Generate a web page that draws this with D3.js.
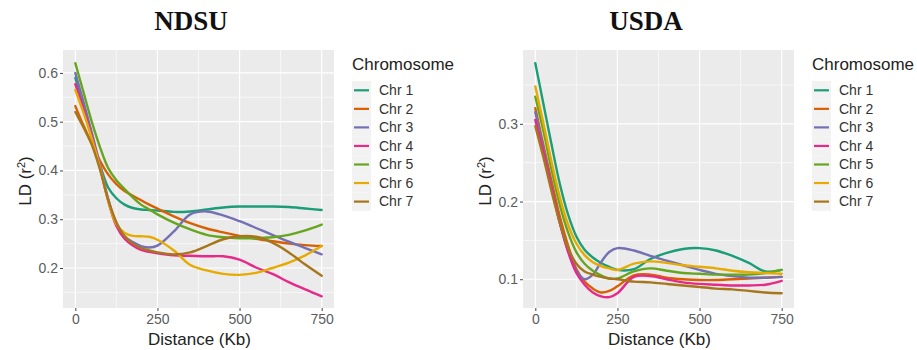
<!DOCTYPE html>
<html>
<head>
<meta charset="utf-8">
<script src="https://cdn.jsdelivr.net/npm/d3@7"></script>
<style>
  body { margin: 0; background: #fff; }
  svg { display: block; font-family: Arial, 'Liberation Sans', sans-serif; }
</style>
</head>
<body>
<svg id="chart" width="917" height="350"></svg>
<script>
const distances = [0, 25, 50, 75, 100, 125, 150, 175, 200, 225, 250, 300, 350, 400, 450, 500, 550, 600, 650, 700, 750]
const chromosomes = ['Chr 1', 'Chr 2', 'Chr 3', 'Chr 4', 'Chr 5', 'Chr 6', 'Chr 7']
const colors = ['#1B9E77', '#D95F02', '#7570B3', '#E7298A', '#66A61E', '#E6AB02', '#A6761D']

// NDSU smoothed LD per chromosome, one value per distance
const ndsuLD = [
  [0.590, 0.530, 0.470, 0.412, 0.365, 0.343, 0.330, 0.323, 0.320, 0.319, 0.318, 0.315, 0.316, 0.320, 0.324, 0.326, 0.326, 0.326, 0.325, 0.322, 0.319],
  [0.532, 0.492, 0.455, 0.420, 0.392, 0.372, 0.358, 0.348, 0.339, 0.330, 0.322, 0.306, 0.292, 0.281, 0.273, 0.266, 0.260, 0.255, 0.250, 0.247, 0.245],
  [0.600, 0.540, 0.478, 0.412, 0.342, 0.290, 0.265, 0.253, 0.245, 0.242, 0.246, 0.275, 0.310, 0.316, 0.308, 0.296, 0.282, 0.268, 0.254, 0.241, 0.228],
  [0.577, 0.525, 0.470, 0.407, 0.338, 0.286, 0.260, 0.246, 0.237, 0.233, 0.230, 0.226, 0.225, 0.224, 0.224, 0.217, 0.201, 0.188, 0.171, 0.156, 0.142],
  [0.620, 0.560, 0.500, 0.448, 0.405, 0.380, 0.362, 0.345, 0.330, 0.320, 0.310, 0.293, 0.279, 0.268, 0.263, 0.261, 0.261, 0.263, 0.268, 0.277, 0.289],
  [0.565, 0.518, 0.466, 0.407, 0.338, 0.290, 0.272, 0.266, 0.265, 0.264, 0.258, 0.236, 0.206, 0.195, 0.188, 0.186, 0.190, 0.200, 0.211, 0.226, 0.245],
  [0.520, 0.488, 0.453, 0.402, 0.340, 0.294, 0.265, 0.250, 0.241, 0.236, 0.232, 0.228, 0.232, 0.245, 0.259, 0.265, 0.264, 0.252, 0.232, 0.207, 0.184]
]

// USDA smoothed LD per chromosome
const usdaLD = [
  [0.378, 0.325, 0.272, 0.222, 0.183, 0.155, 0.138, 0.128, 0.121, 0.116, 0.112, 0.113, 0.126, 0.134, 0.139, 0.140, 0.137, 0.130, 0.121, 0.110, 0.112],
  [0.320, 0.272, 0.225, 0.180, 0.143, 0.113, 0.097, 0.088, 0.083, 0.085, 0.091, 0.105, 0.106, 0.102, 0.100, 0.099, 0.099, 0.100, 0.101, 0.102, 0.103],
  [0.315, 0.267, 0.218, 0.172, 0.136, 0.111, 0.100, 0.106, 0.122, 0.135, 0.140, 0.137, 0.130, 0.124, 0.118, 0.112, 0.107, 0.104, 0.102, 0.102, 0.103],
  [0.305, 0.262, 0.217, 0.172, 0.135, 0.108, 0.093, 0.083, 0.078, 0.077, 0.082, 0.103, 0.104, 0.100, 0.096, 0.094, 0.093, 0.092, 0.092, 0.093, 0.098],
  [0.335, 0.290, 0.240, 0.195, 0.160, 0.135, 0.120, 0.111, 0.105, 0.101, 0.101, 0.110, 0.114, 0.111, 0.108, 0.107, 0.106, 0.106, 0.106, 0.108, 0.112],
  [0.348, 0.300, 0.250, 0.205, 0.170, 0.146, 0.131, 0.122, 0.117, 0.114, 0.112, 0.120, 0.123, 0.121, 0.118, 0.116, 0.114, 0.111, 0.109, 0.108, 0.107],
  [0.297, 0.256, 0.212, 0.172, 0.140, 0.120, 0.110, 0.106, 0.103, 0.101, 0.100, 0.097, 0.096, 0.094, 0.092, 0.090, 0.088, 0.087, 0.085, 0.083, 0.082]
]

const xTicks = [0, 250, 500, 750]
const xMinor = [125, 375, 625]
const ndsuYTicks = [0.2, 0.3, 0.4, 0.5, 0.6]
const ndsuYMinor = [0.15, 0.25, 0.35, 0.45, 0.55]
const usdaYTicks = [0.1, 0.2, 0.3]
const usdaYMinor = [0.15, 0.25, 0.35]

const svg = d3.select('#chart')

function drawPanel(opts) {
  const { title, titleX, values, left, yDomain, yTicks, yMinor } = opts
  const top = 50
  const w = 271
  const h = 258
  const g = svg.append('g').attr('transform', `translate(${left},${top})`)

  const x = d3.scaleLinear().domain([-37.5, 787.5]).range([0, w])
  const y = d3.scaleLinear().domain(yDomain).range([h, 0])

  g.append('rect').attr('width', w).attr('height', h).attr('fill', '#EBEBEB')

  // minor grid
  g.selectAll('.ymin').data(yMinor).join('line')
    .attr('x1', 0).attr('x2', w)
    .attr('y1', d => y(d)).attr('y2', d => y(d))
    .attr('stroke', '#fff').attr('stroke-width', 0.6)
  g.selectAll('.xmin').data(xMinor).join('line')
    .attr('y1', 0).attr('y2', h)
    .attr('x1', d => x(d)).attr('x2', d => x(d))
    .attr('stroke', '#fff').attr('stroke-width', 0.6)
  // major grid
  g.selectAll('.ymaj').data(yTicks).join('line')
    .attr('x1', 0).attr('x2', w)
    .attr('y1', d => y(d)).attr('y2', d => y(d))
    .attr('stroke', '#fff').attr('stroke-width', 1.2)
  g.selectAll('.xmaj').data(xTicks).join('line')
    .attr('y1', 0).attr('y2', h)
    .attr('x1', d => x(d)).attr('x2', d => x(d))
    .attr('stroke', '#fff').attr('stroke-width', 1.2)

  const line = d3.line()
    .x((d, i) => x(distances[i]))
    .y(d => y(d))
    .curve(d3.curveCatmullRom.alpha(0.5))

  g.selectAll('.ld').data(values).join('path')
    .attr('d', d => line(d))
    .attr('fill', 'none')
    .attr('stroke', (d, i) => colors[i])
    .attr('stroke-width', 2.4)
    .attr('stroke-linecap', 'round')

  const yAxis = g.append('g')
    .call(d3.axisLeft(y).tickValues(yTicks).tickSize(3).tickPadding(2).tickFormat(d3.format('.1f')))
  const xAxis = g.append('g').attr('transform', `translate(0,${h})`)
    .call(d3.axisBottom(x).tickValues(xTicks).tickSize(3).tickPadding(3).tickFormat(d3.format('d')))
  ;[yAxis, xAxis].forEach(a => {
    a.select('.domain').remove()
    a.selectAll('line').attr('stroke', '#444')
    a.selectAll('text').attr('fill', '#5c5c5c').attr('font-size', 14)
      .attr('font-family', 'Arial, Liberation Sans, sans-serif')
  })

  // titles
  svg.append('text')
    .attr('x', titleX).attr('y', 30)
    .attr('text-anchor', 'middle')
    .attr('font-family', 'Times New Roman, Liberation Serif, serif')
    .attr('font-weight', 'bold').attr('font-size', 27)
    .attr('fill', '#111')
    .text(title)

  svg.append('text')
    .attr('x', left + w / 2 + 1).attr('y', 345)
    .attr('text-anchor', 'middle')
    .attr('font-size', 17).attr('fill', '#222')
    .text('Distance (Kb)')

  const yt = svg.append('text')
    .attr('transform', `translate(${left - 32},${top + h / 2 + 2}) rotate(-90)`)
    .attr('text-anchor', 'middle')
    .attr('font-size', 17).attr('fill', '#222')
  yt.append('tspan').text('LD (r')
  yt.append('tspan').attr('dy', -6).attr('font-size', 11).text('2')
  yt.append('tspan').attr('dy', 6).text(')')

  // legend
  const lg = svg.append('g').attr('transform', `translate(${left + w + 18},0)`)
  lg.append('text').attr('x', 0).attr('y', 70)
    .attr('font-size', 17).attr('fill', '#222').text('Chromosome')
  const rows = lg.selectAll('.row').data(chromosomes).join('g')
    .attr('transform', (d, i) => `translate(0,${81 + i * 18.55})`)
  rows.append('rect').attr('width', 19).attr('height', 18.55).attr('fill', '#F2F2F2')
  rows.append('line').attr('x1', 2).attr('x2', 17)
    .attr('y1', 9.3).attr('y2', 9.3)
    .attr('stroke', (d, i) => colors[i]).attr('stroke-width', 2.2)
  rows.append('text').attr('x', 27).attr('y', 14)
    .attr('font-size', 14).attr('fill', '#333').text(d => d)
}

drawPanel({ title: 'NDSU', titleX: 191, values: ndsuLD, left: 63, yDomain: [0.118, 0.647], yTicks: ndsuYTicks, yMinor: ndsuYMinor })
drawPanel({ title: 'USDA', titleX: 646, values: usdaLD, left: 523, yDomain: [0.063, 0.395], yTicks: usdaYTicks, yMinor: usdaYMinor })
</script>
</body>
</html>
